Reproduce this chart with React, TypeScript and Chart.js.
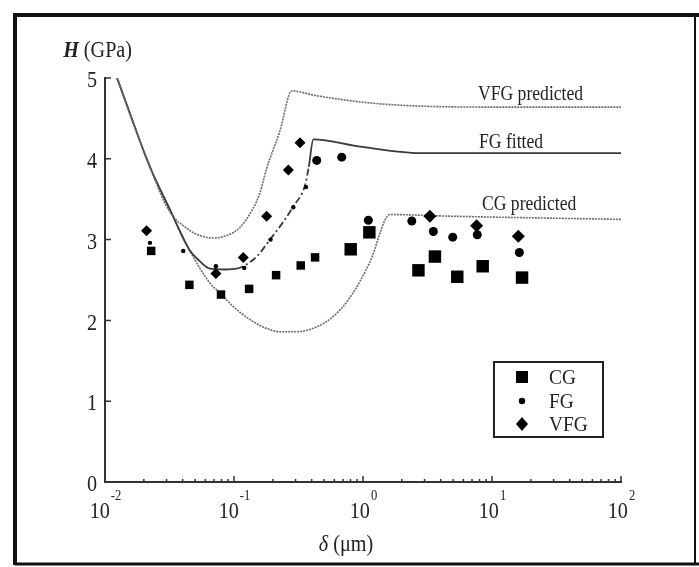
import React, { useEffect, useRef } from "react";
import { Chart, registerables } from "chart.js";

Chart.register(...registerables);

// Measured hardness H (GPa) against indentation depth δ (μm)
const cgDepth = [0.0228, 0.0451, 0.0793, 0.131, 0.212, 0.329, 0.425, 0.803, 1.12, 2.69, 3.61, 5.38, 8.47, 17.1];
const cgHardness = [2.86, 2.44, 2.32, 2.39, 2.56, 2.68, 2.78, 2.88, 3.09, 2.62, 2.79, 2.54, 2.67, 2.53];

const fgDepth = [0.0223, 0.0404, 0.0724, 0.12, 0.192, 0.288, 0.362, 0.438, 0.684, 1.1, 2.39, 3.51, 4.96, 7.69, 16.3];
const fgHardness = [2.96, 2.86, 2.67, 2.65, 3.0, 3.4, 3.65, 3.98, 4.02, 3.24, 3.23, 3.1, 3.03, 3.06, 2.84];

const vfgDepth = [0.021, 0.0724, 0.118, 0.179, 0.264, 0.325, 3.3, 7.6, 16.0];
const vfgHardness = [3.11, 2.58, 2.78, 3.29, 3.86, 4.2, 3.29, 3.17, 3.04];

// Model curves
const vfgModelDepth = [0.0124, 0.0223, 0.031, 0.043, 0.0545, 0.069, 0.0877, 0.111, 0.14, 0.159, 0.179, 0.2275, 0.28, 0.438, 1.355, 9.64, 100];
const vfgModelHardness = [5.0, 3.9, 3.37, 3.14, 3.05, 3.02, 3.05, 3.15, 3.38, 3.58, 3.88, 4.35, 4.84, 4.78, 4.68, 4.64, 4.64];

const fgModelDepth = [0.0124, 0.0223, 0.0319, 0.0452, 0.0545, 0.0652, 0.085, 0.105, 0.118, 0.15, 0.19, 0.241, 0.288, 0.355, 0.38, 0.412, 0.948, 2.77, 100];
const fgModelHardness = [5.0, 3.9, 3.37, 2.87, 2.73, 2.64, 2.63, 2.64, 2.67, 2.79, 3.0, 3.22, 3.41, 3.67, 3.9, 4.24, 4.15, 4.07, 4.07];

const cgModelDepth = [0.0124, 0.0223, 0.0319, 0.0452, 0.0652, 0.0778, 0.0989, 0.133, 0.179, 0.2275, 0.306, 0.438, 0.589, 0.79, 1.13, 1.62, 4.7, 100];
const cgModelHardness = [5.0, 3.9, 3.37, 2.87, 2.46, 2.34, 2.17, 2.01, 1.9, 1.86, 1.86, 1.92, 2.05, 2.28, 2.72, 3.31, 3.29, 3.25];

const curveNames = ["VFG predicted", "FG fitted", "CG predicted"];
const seriesNames = ["CG", "FG", "VFG"];
const xTickExponents = [-2, -1, 0, 1, 2];
const yTicks = [0, 1, 2, 3, 4, 5];

const SERIF = '"Liberation Serif", "Times New Roman", serif';
const SX = 0.84; // horizontal squeeze of the serif lettering

const toPoints = (xs: number[], ys: number[]) => xs.map((x, i) => ({ x, y: ys[i] }));

function text(
  ctx: CanvasRenderingContext2D,
  str: string,
  x: number,
  y: number,
  font: string,
  align: CanvasTextAlign = "left",
  sx = SX
) {
  ctx.save();
  ctx.font = font;
  ctx.translate(x, y);
  ctx.scale(sx, 1);
  ctx.textAlign = align;
  ctx.textBaseline = "middle";
  ctx.fillText(str, 0, 0);
  ctx.restore();
}

function width(ctx: CanvasRenderingContext2D, str: string, font: string) {
  ctx.save();
  ctx.font = font;
  const w = ctx.measureText(str).width;
  ctx.restore();
  return w * SX;
}

const decorations = {
  id: "decorations",
  afterDraw(chart: any) {
    const ctx: CanvasRenderingContext2D = chart.ctx;
    const xs = chart.scales.x;
    const ys = chart.scales.y;
    const area = chart.chartArea;
    ctx.save();

    // outer frame
    ctx.strokeStyle = "#111";
    ctx.lineWidth = 4;
    ctx.beginPath();
    ctx.moveTo(15, 565);
    ctx.lineTo(15, 15);
    ctx.lineTo(699, 15);
    ctx.stroke();
    ctx.lineWidth = 3;
    ctx.beginPath();
    ctx.moveTo(15, 564);
    ctx.lineTo(699, 564);
    ctx.stroke();
    ctx.lineWidth = 2;
    ctx.beginPath();
    ctx.moveTo(695, 15);
    ctx.lineTo(695, 564);
    ctx.stroke();

    // inward tick marks
    ctx.strokeStyle = "#333";
    ctx.lineWidth = 1.5;
    ctx.beginPath();
    for (const v of yTicks) {
      const py = ys.getPixelForValue(v);
      ctx.moveTo(area.left, py);
      ctx.lineTo(area.left + 6, py);
    }
    for (let e = -2; e < 2; e++) {
      for (let m = 1; m <= 9; m++) {
        const px = xs.getPixelForValue(m * Math.pow(10, e));
        ctx.moveTo(px, area.bottom);
        ctx.lineTo(px, area.bottom - (m === 1 ? 6 : 3));
      }
    }
    const pEnd = xs.getPixelForValue(100);
    ctx.moveTo(pEnd, area.bottom);
    ctx.lineTo(pEnd, area.bottom - 6);
    ctx.stroke();

    ctx.fillStyle = "#222";
    const tickFont = `24px ${SERIF}`;
    const supFont = `15px ${SERIF}`;

    // y tick labels
    for (const v of yTicks) {
      text(ctx, String(v), area.left - 8, ys.getPixelForValue(v) + 3, tickFont, "right");
    }

    // x tick labels as powers of ten
    for (const e of xTickExponents) {
      const px = xs.getPixelForValue(Math.pow(10, e));
      const base = "10";
      const sup = String(e).replace("-", "-");
      const wb = width(ctx, base, tickFont);
      const ws = width(ctx, sup, supFont);
      const start = px - (wb + ws) / 2;
      text(ctx, base, start, 512, tickFont, "left");
      text(ctx, sup, start + wb + 1, 496, supFont, "left");
    }

    // axis titles
    const hFont = `bold italic 24px ${SERIF}`;
    const unitFont = `24px ${SERIF}`;
    const wH = width(ctx, "H", hFont);
    const wU = width(ctx, " (GPa)", unitFont);
    const hStart = 132 - wH - wU;
    text(ctx, "H", hStart, 51, hFont, "left");
    text(ctx, " (GPa)", hStart + wH, 51, unitFont, "left");

    const dFont = `italic 24px ${SERIF}`;
    const wD = width(ctx, "δ", dFont);
    const wM = width(ctx, " (μm)", unitFont);
    const dStart = 346 - (wD + wM) / 2;
    text(ctx, "δ", dStart, 545, dFont, "left");
    text(ctx, " (μm)", dStart + wD, 545, unitFont, "left");

    // curve labels
    const labelFont = `22px ${SERIF}`;
    text(ctx, curveNames[0], 478, 94, labelFont, "left", 0.8);
    text(ctx, curveNames[1], 479, 142, labelFont, "left", 0.8);
    text(ctx, curveNames[2], 482, 204, labelFont, "left", 0.8);

    // legend
    ctx.strokeStyle = "#222";
    ctx.lineWidth = 2;
    ctx.strokeRect(494, 362, 109, 75);
    const symX = 522;
    const rows = [377, 401, 424];
    ctx.fillStyle = "#000";
    ctx.fillRect(symX - 6, rows[0] - 6, 12, 12);
    ctx.beginPath();
    ctx.arc(symX, rows[1], 3.2, 0, Math.PI * 2);
    ctx.fill();
    ctx.beginPath();
    ctx.moveTo(symX, rows[2] - 7);
    ctx.lineTo(symX + 6, rows[2]);
    ctx.lineTo(symX, rows[2] + 7);
    ctx.lineTo(symX - 6, rows[2]);
    ctx.closePath();
    ctx.fill();
    ctx.fillStyle = "#222";
    const legFont = `22px ${SERIF}`;
    seriesNames.forEach((n, i) => text(ctx, n, 549, rows[i] + 1, legFont, "left", 0.88));

    ctx.restore();
  },
};

export default function App() {
  const ref = useRef<HTMLCanvasElement | null>(null);

  useEffect(() => {
    if (!ref.current) return;
    const risingFg = (c: any) =>
      fgModelDepth[c.p0DataIndex] >= 0.105 && fgModelDepth[c.p1DataIndex] <= 0.38 ? [7, 3, 2, 3] : undefined;

    const chart = new Chart(ref.current, {
      type: "scatter",
      data: {
        datasets: [
          {
            label: seriesNames[0],
            data: toPoints(cgDepth, cgHardness),
            pointStyle: "rect",
            backgroundColor: "#000",
            borderColor: "#000",
            borderWidth: 0,
            pointRadius: (c: any) => (cgDepth[c.dataIndex] >= 0.7 ? 8.8 : 6),
          },
          {
            label: seriesNames[1],
            data: toPoints(fgDepth, fgHardness),
            pointStyle: "circle",
            backgroundColor: "#000",
            borderColor: "#000",
            borderWidth: 0,
            pointRadius: (c: any) => (fgDepth[c.dataIndex] >= 0.4 ? 4.5 : 2.2),
          },
          {
            label: seriesNames[2],
            data: toPoints(vfgDepth, vfgHardness),
            pointStyle: "rectRot",
            backgroundColor: "#000",
            borderColor: "#000",
            borderWidth: 0,
            pointRadius: (c: any) => (vfgDepth[c.dataIndex] >= 1 ? 6.5 : 5.5),
          },
          {
            label: curveNames[0],
            data: toPoints(vfgModelDepth, vfgModelHardness),
            showLine: true,
            pointRadius: 0,
            borderColor: "#6a6a6a",
            borderWidth: 1.6,
            borderDash: [2, 1],
            cubicInterpolationMode: "monotone",
          },
          {
            label: curveNames[1],
            data: toPoints(fgModelDepth, fgModelHardness),
            showLine: true,
            pointRadius: 0,
            borderColor: "#3a3a3a",
            borderWidth: 1.8,
            cubicInterpolationMode: "monotone",
            segment: { borderDash: risingFg },
          },
          {
            label: curveNames[2],
            data: toPoints(cgModelDepth, cgModelHardness),
            showLine: true,
            pointRadius: 0,
            borderColor: "#6a6a6a",
            borderWidth: 1.6,
            borderDash: [2, 1],
            cubicInterpolationMode: "monotone",
          },
        ],
      },
      options: {
        animation: false,
        responsive: false,
        layout: { padding: { left: 105, right: 78, top: 78, bottom: 85 } },
        plugins: { legend: { display: false }, tooltip: { enabled: false } },
        scales: {
          x: {
            type: "logarithmic",
            min: 0.01,
            max: 100,
            grid: { display: false, drawTicks: false },
            border: { display: true, color: "#333", width: 2 },
            ticks: { display: false },
            afterFit: (s: any) => {
              s.height = 0;
            },
          },
          y: {
            type: "linear",
            min: 0,
            max: 5,
            grid: { display: false, drawTicks: false },
            border: { display: true, color: "#333", width: 2 },
            ticks: { display: false },
            afterFit: (s: any) => {
              s.width = 0;
            },
          },
        },
      },
      plugins: [decorations],
    } as any);
    return () => chart.destroy();
  }, []);

  return (
    <div style={{ position: "absolute", left: 0, top: 0, width: 699, height: 567, background: "#fff" }}>
      <canvas ref={ref} width={699} height={567} style={{ display: "block" }} />
    </div>
  );
}
